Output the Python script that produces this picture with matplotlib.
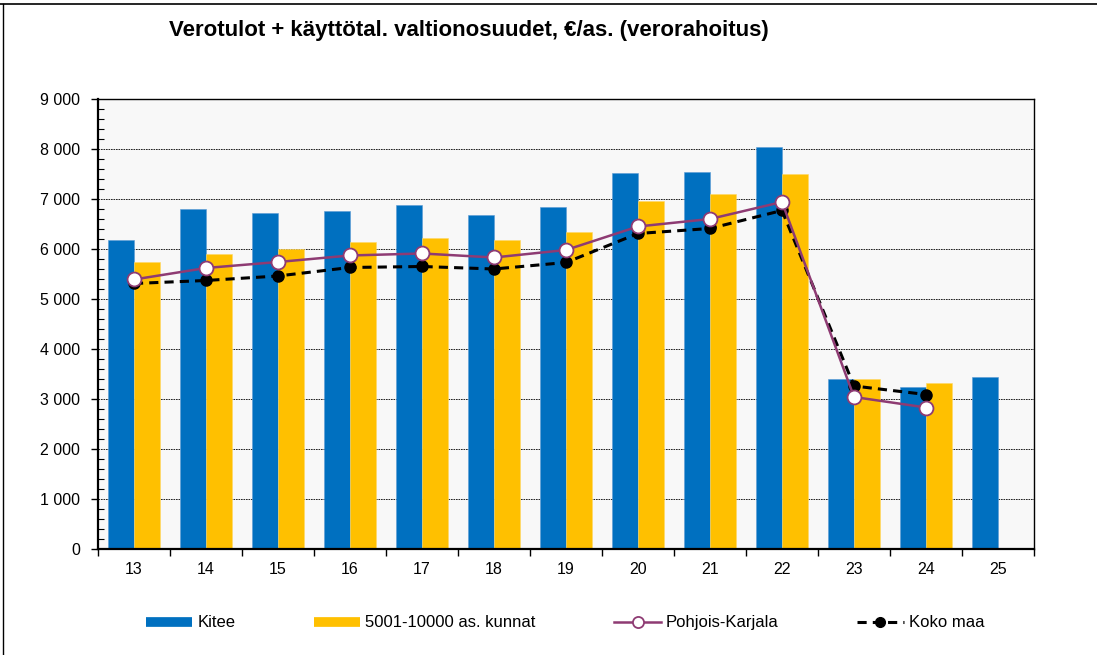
import matplotlib
matplotlib.use("Agg")
import matplotlib.pyplot as plt
import numpy as np
from matplotlib.lines import Line2D
from matplotlib.ticker import MultipleLocator, FuncFormatter

plt.rcParams['font.family'] = ['Liberation Sans', 'DejaVu Sans']

years = ['13', '14', '15', '16', '17', '18', '19', '20', '21', '22', '23', '24', '25']
kitee = [6180, 6800, 6720, 6750, 6870, 6670, 6840, 7520, 7540, 8030, 3400, 3240, 3440]
kunnat = [5730, 5890, 6000, 6140, 6210, 6180, 6340, 6950, 7090, 7490, 3400, 3320, np.nan]
pohjois_karjala = [5390, 5620, 5740, 5870, 5910, 5830, 5980, 6450, 6600, 6940, 3040, 2830, np.nan]
koko_maa = [5310, 5370, 5460, 5630, 5650, 5600, 5730, 6310, 6410, 6770, 3260, 3090, np.nan]

title = "Verotulot + käyttötal. valtionosuudet, €/as. (verorahoitus)"
labels = ["Kitee", "5001-10000 as. kunnat", "Pohjois-Karjala", "Koko maa"]

c_blue = "#0070C0"
c_yellow = "#FFC000"
c_purple = "#8E3B73"

fig = plt.figure(figsize=(10.97, 6.55), dpi=100)
ax = fig.add_axes([0.0893, 0.1618, 0.8533, 0.6871])
ax.set_facecolor("#F8F8F8")

x = np.arange(len(years))
w = 0.36
ax.bar(x - w / 2, kitee, width=w, color=c_blue, edgecolor="#5B9BD5", linewidth=0.4, zorder=2)
ax.bar(x + w / 2, kunnat, width=w, color=c_yellow, edgecolor="#FFD966", linewidth=0.4, zorder=2)
ax.plot(x, koko_maa, color="black", linestyle=(0, (3, 2)), linewidth=2.2,
        marker="o", markersize=8, markerfacecolor="black", markeredgecolor="black", zorder=3)
ax.plot(x, pohjois_karjala, color=c_purple, linewidth=1.8,
        marker="o", markersize=10, markerfacecolor="white", markeredgecolor=c_purple,
        markeredgewidth=1.3, zorder=4)

ax.set_xlim(-0.5, len(years) - 0.5)
ax.set_ylim(0, 9000)
ax.yaxis.set_major_locator(MultipleLocator(1000))
ax.yaxis.set_minor_locator(MultipleLocator(200))
ax.yaxis.set_major_formatter(FuncFormatter(lambda v, p: f"{int(v):,}".replace(",", " ")))
ax.grid(axis="y", which="major", color="black", linestyle=(0, (2, 1)), linewidth=0.6, zorder=1)
ax.set_axisbelow(True)

ax.set_xticks(x)
ax.set_xticklabels(years)
ax.set_xticks(np.arange(len(years) + 1) - 0.5, minor=True)
ax.tick_params(axis="x", which="major", length=0, pad=9, labelsize=11.5)
ax.tick_params(axis="x", which="minor", length=5, direction="out", width=1)
ax.tick_params(axis="y", which="major", length=5, direction="out", width=1, labelsize=11.5, pad=8)
ax.tick_params(axis="y", which="minor", length=4, direction="in", width=0.8)

for s in ax.spines.values():
    s.set_color("black")
    s.set_linewidth(1.0)
ax.spines["left"].set_linewidth(1.6)
ax.spines["bottom"].set_linewidth(1.6)

fig.text(0.4275, 0.953, title, ha="center", va="center", fontsize=16, fontweight="bold")

handles = [
    Line2D([], [], color=c_blue, linewidth=7, solid_capstyle="butt"),
    Line2D([], [], color=c_yellow, linewidth=7, solid_capstyle="butt"),
    Line2D([], [], color=c_purple, linewidth=1.8, marker="o", markersize=8,
           markerfacecolor="white", markeredgecolor=c_purple, markeredgewidth=1.3),
    Line2D([], [], color="black", linestyle=(0, (3, 2)), linewidth=2.2, marker="o",
           markersize=7, markerfacecolor="black"),
]
fig.legend(handles, labels, loc="center", bbox_to_anchor=(0.515, 0.049), ncol=4,
           frameon=False, fontsize=12, handlelength=2.8, handletextpad=0.3,
           columnspacing=4.7)

# outer frame lines (top and left)
fig.add_artist(Line2D([0, 1], [0.994, 0.994], color="black", linewidth=1.2, transform=fig.transFigure))
fig.add_artist(Line2D([0.003, 0.003], [0, 0.994], color="black", linewidth=1.0, transform=fig.transFigure))

fig.savefig("out.png", dpi=100)
